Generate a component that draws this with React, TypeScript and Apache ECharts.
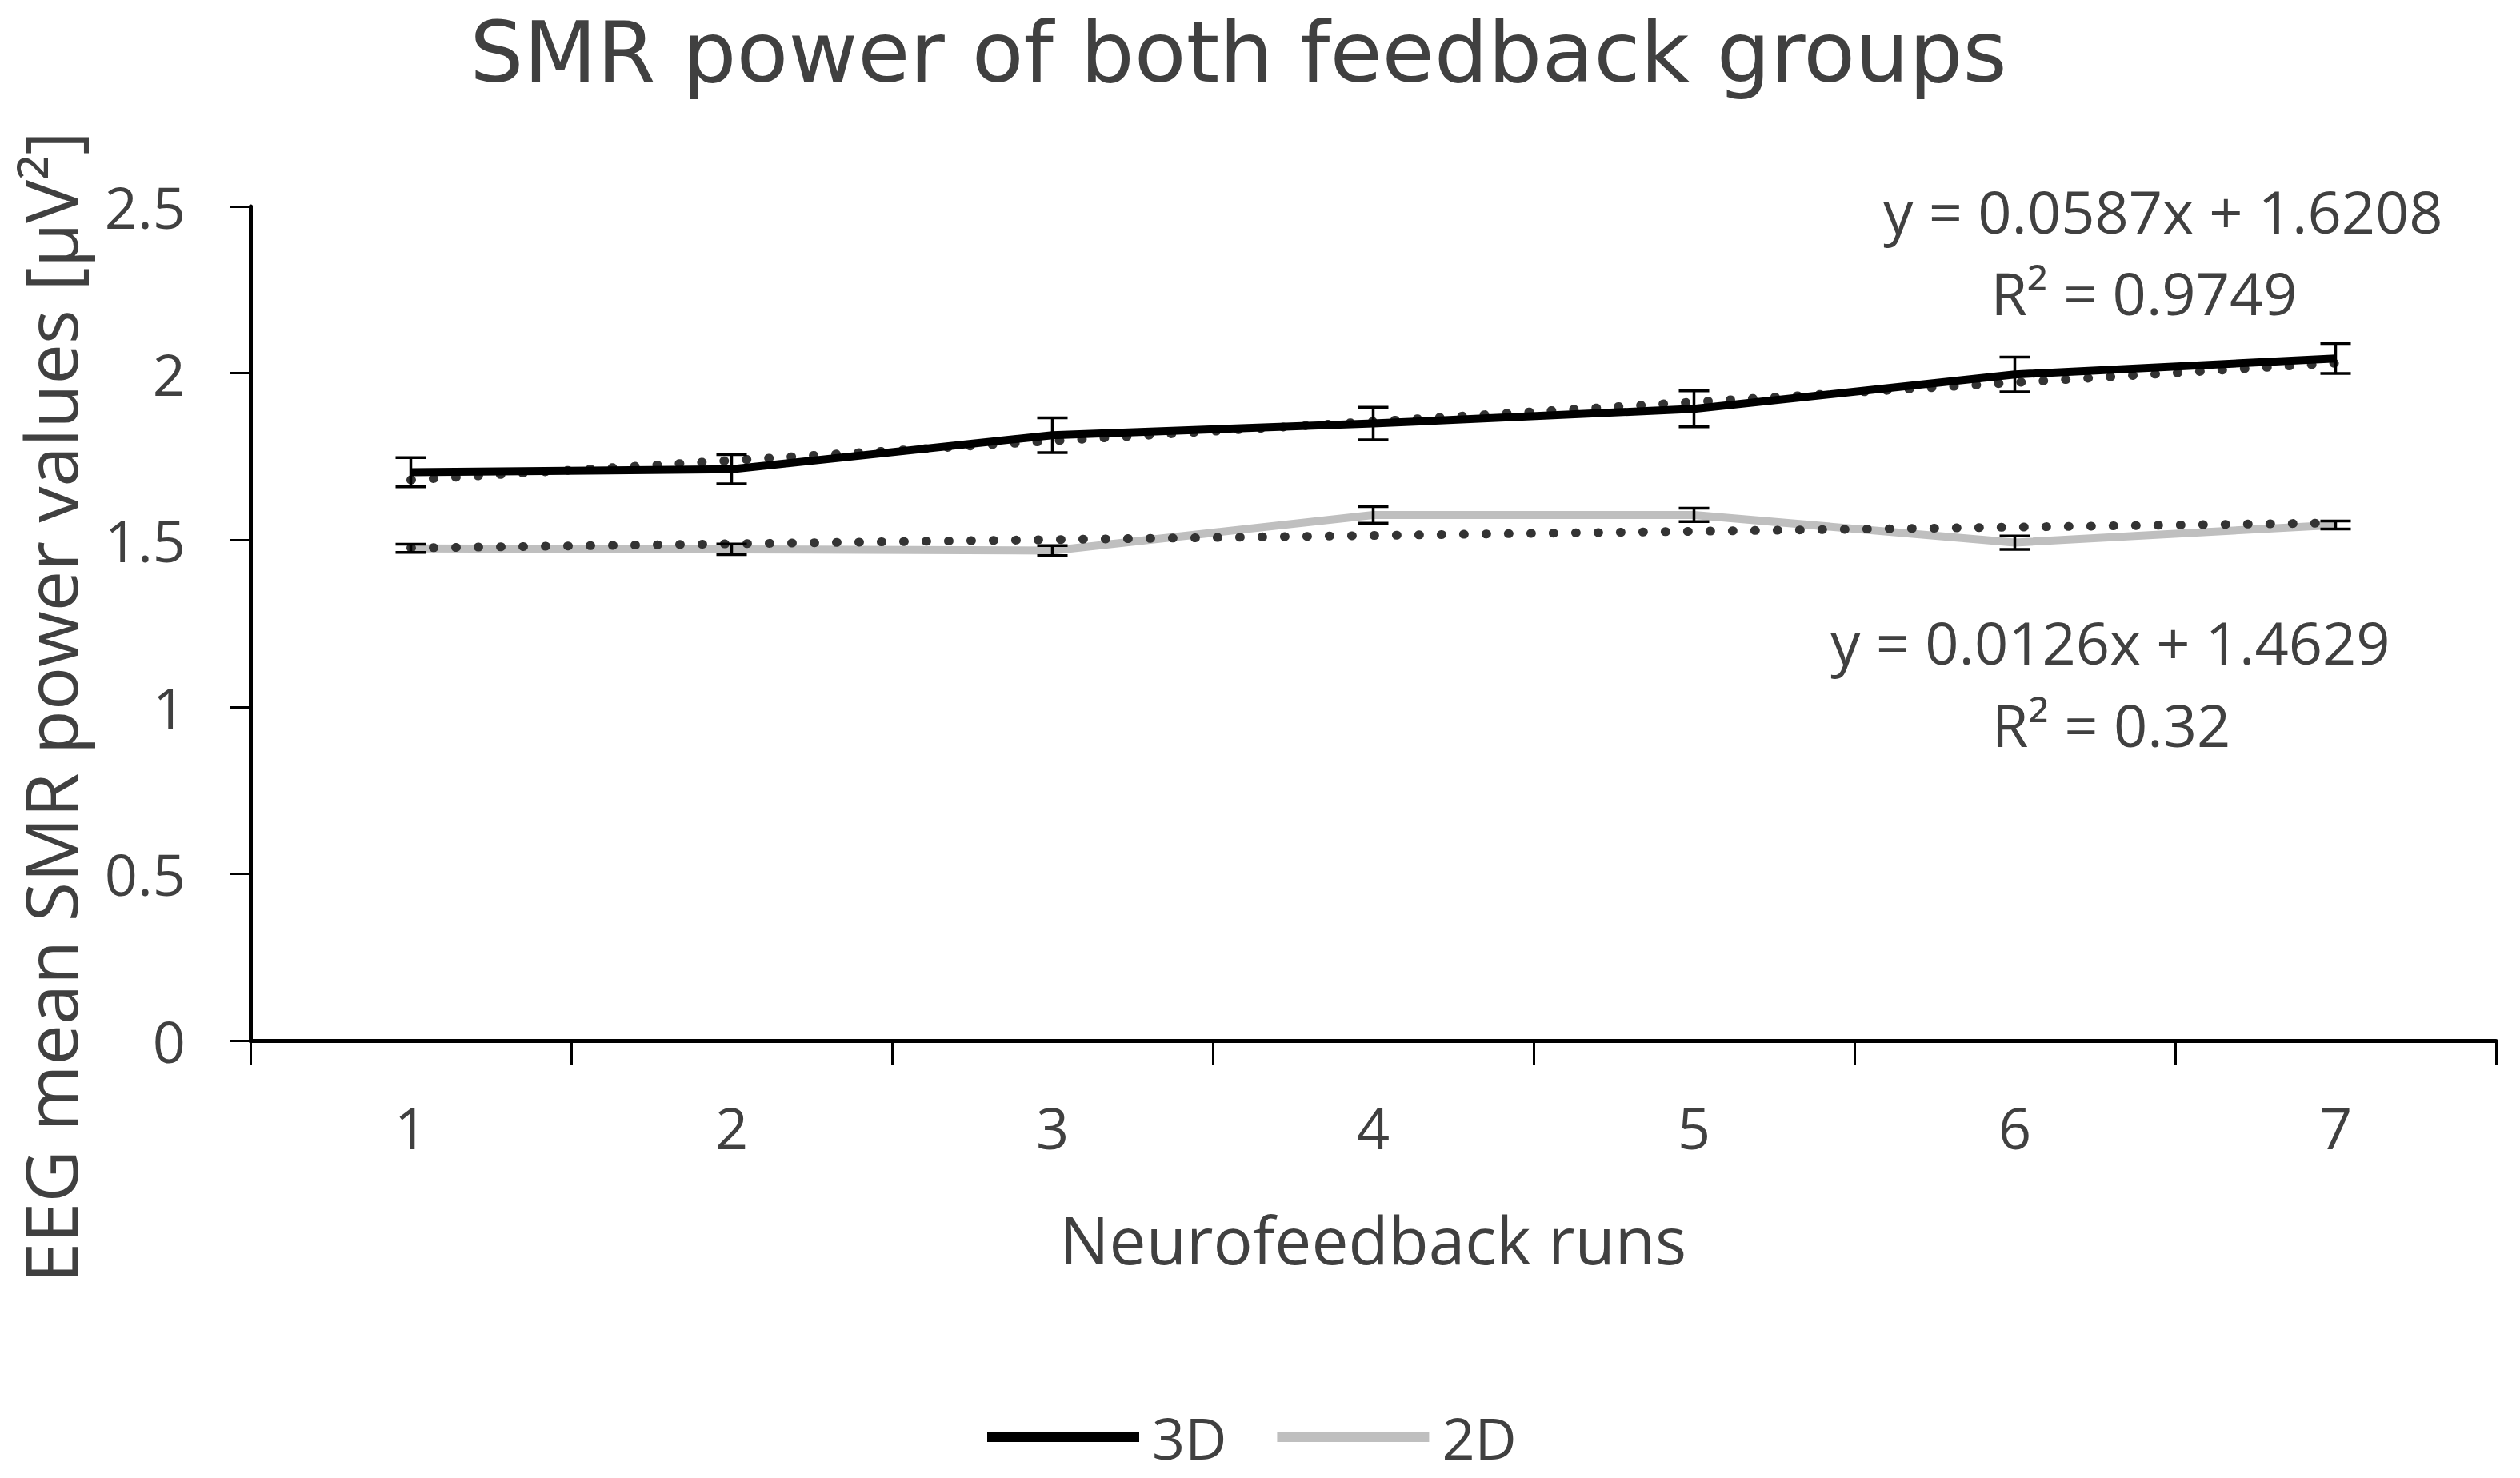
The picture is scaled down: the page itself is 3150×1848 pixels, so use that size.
import React, { useEffect, useRef } from "react";
import * as echarts from "echarts";

const titleText = "SMR power of both feedback groups";
const xAxisTitle = "Neurofeedback runs";
const yAxisTitle = "EEG mean SMR power values [µV²]";
const runs = ["1", "2", "3", "4", "5", "6", "7"];
const seriesNames = ["3D", "2D"];
const values3D = [1.703, 1.712, 1.814, 1.849, 1.893, 1.996, 2.044];
const errors3D = [0.044, 0.044, 0.052, 0.049, 0.054, 0.052, 0.045];
const values2D = [1.475, 1.472, 1.468, 1.575, 1.575, 1.492, 1.545];
const errors2D = [0.012, 0.016, 0.015, 0.025, 0.02, 0.02, 0.012];
// linear trend lines (drawn from first to last run)
const trend3D = [1.68, null, null, null, null, null, 2.03];
const trend2D = [1.476, null, null, null, null, null, 1.551];
const eq3D = ["y = 0.0587x + 1.6208", "R² = 0.9749"];
const eq2D = ["y = 0.0126x + 1.4629", "R² = 0.32"];

const FONT = "Open Sans";
const TITLE_FONT = "DejaVu Sans";
const TXT = "#404040";

function errorSeries(name: string, vals: number[], errs: number[]) {
  return {
    type: "custom",
    name: name + "-err",
    z: 5,
    data: vals.map((v, i) => [i, v, errs[i]]),
    renderItem: (params: any, api: any) => {
      const x = api.value(0);
      const v = api.value(1);
      const e = api.value(2);
      const top = api.coord([x, v + e]);
      const bot = api.coord([x, v - e]);
      const hw = 19;
      const style = { stroke: "#000", lineWidth: 3.5 };
      return {
        type: "group",
        children: [
          { type: "line", shape: { x1: top[0], y1: top[1], x2: bot[0], y2: bot[1] }, style },
          { type: "line", shape: { x1: top[0] - hw, y1: top[1], x2: top[0] + hw, y2: top[1] }, style },
          { type: "line", shape: { x1: bot[0] - hw, y1: bot[1], x2: bot[0] + hw, y2: bot[1] }, style },
        ],
      };
    },
  };
}

function eqText(lines: string[], cx: number[], cy: number[]) {
  return lines.map((t, i) => ({
    type: "text",
    x: cx[i],
    y: cy[i],
    style: {
      text: t,
      fontFamily: FONT,
      fontSize: 74,
      fill: TXT,
      textAlign: "center",
      textVerticalAlign: "middle",
    },
  }));
}

export default function App() {
  const ref = useRef<HTMLDivElement>(null);
  useEffect(() => {
    if (!ref.current) return;
    const chart = echarts.init(ref.current, null, { renderer: "svg" });
    const option: any = {
      animation: false,
      backgroundColor: "#fff",
      title: {
        text: titleText,
        left: 1548,
        top: 12,
        padding: 0,
        textAlign: "center",
        textStyle: { fontFamily: TITLE_FONT, fontSize: 106, fontWeight: "normal", color: TXT },
      },
      legend: {
        data: seriesNames,
        left: 1234,
        top: 1761,
        padding: 0,
        icon: "rect",
        itemWidth: 190,
        itemHeight: 12,
        itemGap: 63,
        textStyle: { fontFamily: FONT, fontSize: 72, color: TXT, padding: [0, 0, 0, 11] },
      },
      grid: { left: 313, right: 30, top: 258, bottom: 547, containLabel: false },
      xAxis: {
        type: "category",
        data: runs,
        boundaryGap: true,
        name: xAxisTitle,
        nameLocation: "middle",
        nameGap: 207,
        nameTextStyle: { fontFamily: FONT, fontSize: 82, color: TXT, verticalAlign: "top" },
        axisLine: { lineStyle: { color: "#000", width: 5 } },
        axisTick: { show: true, length: 30, lineStyle: { color: "#000", width: 3 } },
        axisLabel: { fontFamily: FONT, fontSize: 72, color: TXT, margin: 72 },
        splitLine: { show: false },
      },
      yAxis: {
        type: "value",
        min: 0,
        max: 2.5,
        interval: 0.5,
        axisLine: { show: true, lineStyle: { color: "#000", width: 5 } },
        axisTick: { show: true, length: 25, lineStyle: { color: "#000", width: 3 } },
        axisLabel: { fontFamily: FONT, fontSize: 72, color: TXT, margin: 81 },
        splitLine: { show: false },
      },
      graphic: [
        {
          type: "text",
          x: 62,
          y: 884,
          rotation: Math.PI / 2,
          style: {
            text: yAxisTitle,
            fontFamily: FONT,
            fontSize: 90,
            fill: TXT,
            textAlign: "center",
            textVerticalAlign: "middle",
          },
        },
        ...eqText(eq3D, [2704, 2680], [263, 365]),
        ...eqText(eq2D, [2638, 2639], [802, 905]),
      ],
      series: [
        {
          name: "trend3D",
          type: "line",
          data: trend3D,
          connectNulls: true,
          symbol: "none",
          lineStyle: { color: "#333333", width: 11, type: [1, 27], cap: "round" },
          z: 2,
        },
        {
          name: seriesNames[0],
          type: "line",
          data: values3D,
          color: "#000000",
          symbol: "none",
          lineStyle: { color: "#000000", width: 10 },
          z: 3,
        },
        {
          name: seriesNames[1],
          type: "line",
          data: values2D,
          color: "#bfbfbf",
          symbol: "none",
          lineStyle: { color: "#bfbfbf", width: 10 },
          z: 3,
        },
        {
          name: "trend2D",
          type: "line",
          data: trend2D,
          connectNulls: true,
          symbol: "none",
          lineStyle: { color: "#333333", width: 11, type: [1, 27], cap: "round" },
          z: 4,
        },
        errorSeries("3D", values3D, errors3D),
        errorSeries("2D", values2D, errors2D),
      ],
    };
    chart.setOption(option);
    return () => chart.dispose();
  }, []);
  return (
    <div
      ref={ref}
      style={{ position: "fixed", left: 0, top: 0, width: 3150, height: 1848, background: "#fff" }}
    />
  );
}
